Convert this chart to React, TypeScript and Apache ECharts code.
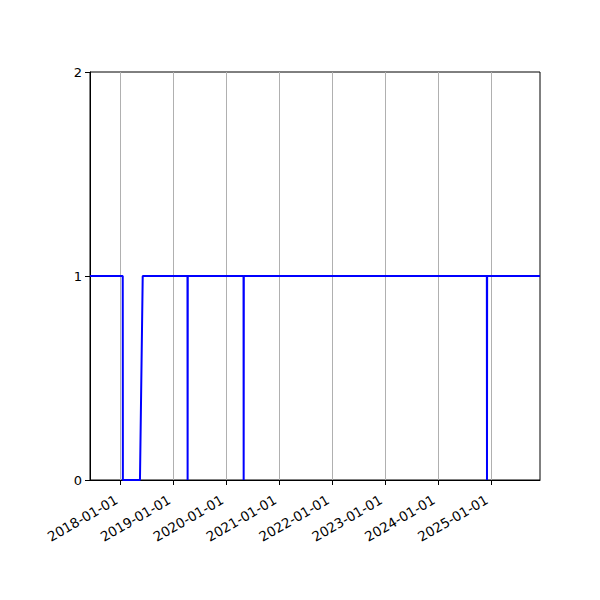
import React, { useEffect, useRef } from "react";
import * as echarts from "echarts";

// axis range
const xStart = "2017-06-03";
const xEnd = "2025-12-05";

// year ticks on the x axis
const yearTicks = [
  "2018-01-01",
  "2019-01-01",
  "2020-01-01",
  "2021-01-01",
  "2022-01-01",
  "2023-01-01",
  "2024-01-01",
  "2025-01-01",
];

// status series (0 = down, 1 = up)
const dates = [
  "2017-06-03",
  "2018-01-15",
  "2018-01-16",
  "2018-05-14",
  "2018-06-02",
  "2019-04-07",
  "2019-04-08",
  "2019-04-09",
  "2020-04-28",
  "2020-04-29",
  "2020-04-30",
  "2024-12-03",
  "2024-12-04",
  "2024-12-05",
  "2025-12-05",
];
const values = [1, 1, 0, 0, 1, 1, 0, 1, 1, 0, 1, 1, 0, 1, 1];

const yTicks = [0, 1, 2];

const font = "DejaVu Sans";

const App: React.FC = () => {
  const chartRef = useRef<HTMLDivElement>(null);

  useEffect(() => {
    const chart = echarts.init(chartRef.current!, undefined, { renderer: "svg" });
    const tickTimes = yearTicks.map((d) => echarts.time.parse(d).getTime());

    const option = {
      animation: false,
      backgroundColor: "#ffffff",
      grid: {
        left: 82,
        right: 52,
        top: 64,
        bottom: 112,
        show: true,
        borderColor: "#000000",
        borderWidth: 1,
        backgroundColor: "transparent",
      },
      xAxis: {
        type: "time",
        min: xStart,
        max: xEnd,
        axisLine: { show: true, lineStyle: { color: "#000000", width: 1 } },
        axisTick: {
          show: true,
          customValues: tickTimes,
          length: 5,
          lineStyle: { color: "#000000" },
        },
        axisLabel: {
          show: true,
          customValues: tickTimes,
          formatter: "{yyyy}-{MM}-{dd}",
          rotate: 30,
          color: "#000000",
          fontSize: 13.5,
          fontFamily: font,
          margin: 16,
          padding: [0, 5, 0, 0],
          hideOverlap: false,
        },
        splitLine: { show: false },
      },
      yAxis: {
        type: "value",
        min: yTicks[0],
        max: yTicks[yTicks.length - 1],
        interval: 1,
        axisLine: { show: true, lineStyle: { color: "#000000", width: 1 } },
        axisTick: { show: true, length: 5, lineStyle: { color: "#000000" } },
        axisLabel: { color: "#000000", fontSize: 13, fontFamily: font, margin: 8 },
        splitLine: { show: false },
      },
      series: [
        {
          type: "line",
          data: dates.map((d, i) => [d, values[i]]),
          showSymbol: false,
          lineStyle: { color: "#0000ff", width: 2 },
          itemStyle: { color: "#0000ff" },
          z: 3,
          markLine: {
            silent: true,
            symbol: "none",
            z: 1,
            lineStyle: { color: "#b0b0b0", width: 1, type: "solid" },
            label: { show: false },
            emphasis: { disabled: true },
            data: yearTicks.map((d) => ({ xAxis: d })),
          },
        },
      ],
    };

    chart.setOption(option as any);
    return () => {
      chart.dispose();
    };
  }, []);

  return <div ref={chartRef} style={{ width: "584px", height: "584px" }} />;
};

export default App;
